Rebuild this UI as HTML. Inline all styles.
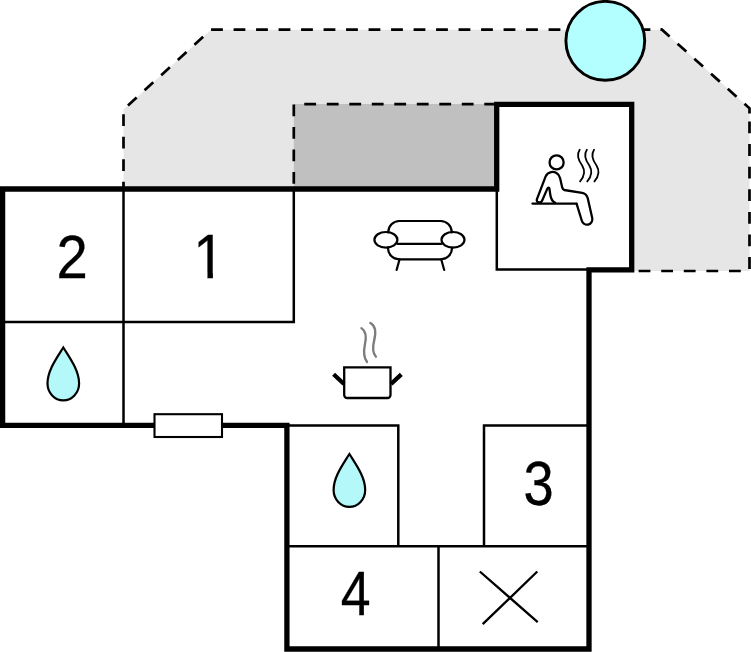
<!DOCTYPE html>
<html lang="en">
<head>
<meta charset="utf-8">
<title>Floor plan</title>
<style>
html,body{margin:0;padding:0;background:#fff;}
body{width:751px;height:652px;overflow:hidden;}
svg{display:block;}
.num{font-family:"Liberation Sans",sans-serif;font-size:60px;fill:#000;stroke:#000;stroke-width:0.3;text-anchor:start;}
.thick{fill:none;stroke:#000;stroke-width:5.3;stroke-linejoin:miter;stroke-linecap:butt;}
.thin{fill:none;stroke:#000;stroke-width:2.5;stroke-linecap:butt;stroke-linejoin:miter;}
.dash{fill:none;stroke:#000;stroke-width:2.7;stroke-dasharray:11.8 10.7;}
.ico{fill:none;stroke:#000;stroke-width:2.2;stroke-linecap:round;stroke-linejoin:round;}
</style>
</head>
<body>
<svg width="751" height="652" viewBox="0 0 751 652">
<rect x="0" y="0" width="751" height="652" fill="#fff"/>

<!-- terrace (light grey) -->
<polygon points="123.5,189 123.5,109.5 211,29.7 662,29.7 749.5,108.3 749.5,271 632,271 632,104 497,104 497,189" fill="#e6e6e6"/>
<!-- covered terrace (dark grey) -->
<rect x="293.8" y="104" width="203" height="85" fill="#c0c0c0"/>

<!-- dashed outlines -->
<path class="dash" stroke-dashoffset="4.5" d="M123.5,189 L123.5,109.5 L211,29.7 L662,29.7"/>
<path class="dash" d="M660.4,29.7 L662,29.7 L749.5,108.3 L749.5,114"/>
<path class="dash" style="stroke-dasharray:11.8 10.8" d="M749.5,121.5 L749.5,271 L632,271"/>
<path class="dash" stroke-dashoffset="17.2" d="M293.8,189 L293.8,104.2 L497,104.2"/>

<!-- sauna room white interior -->
<rect x="496.7" y="104.3" width="135" height="165.5" fill="#fff"/>

<!-- thin interior lines -->
<path class="thin" d="M123.5,189 V425.4 M2.6,322 H295 M293.8,189 V323.2 M496.8,189 V270.7 M495.6,269.5 H589 M287,425.4 H399.5 M398.3,425.4 V546.3 M484,546.3 V424.4 M482.8,425.6 H589 M287,546.3 H589 M438.5,546.3 V649"/>

<!-- thick outer walls -->
<path class="thick" d="M496.7,191.65 V189 H2.6 V425.4 H286.9 V649 H589 V269.8 H631.7 V104.3 H496.7 V189"/>

<!-- window -->
<rect x="154.5" y="414.2" width="67.5" height="22.8" fill="#fff" stroke="#000" stroke-width="2.1"/>

<!-- hot tub -->
<circle cx="605.3" cy="40.8" r="39.4" fill="#b3ffff" stroke="#000" stroke-width="2.9"/>

<!-- room numbers -->
<defs><clipPath id="one"><path d="M0,-50 H40 V-4.75 H20.6 V2 H14.9 V-4.75 H0 Z"/></clipPath></defs>
<text class="num" transform="translate(56.59,277.60) scale(0.9379,1.0287)" x="0" y="0">2</text>
<text class="num" transform="translate(193.33,277.60) scale(0.9495,1.0436)" x="0" y="0" clip-path="url(#one)">1</text>
<text class="num" transform="translate(523.62,505.18) scale(0.9048,1.0353)" x="0" y="0">3</text>
<text class="num" transform="translate(340.65,615.10) scale(0.8939,1.0388)" x="0" y="0">4</text>

<!-- water drops -->
<defs><path id="drop" d="M0,0 C6.5,10.5 15.8,23 15.8,36 C15.8,45.3 8.7,52.8 0,52.8 C-8.7,52.8 -15.8,45.3 -15.8,36 C-15.8,23 -6.5,10.5 0,0 Z"/></defs>
<use href="#drop" x="63.3" y="347.5" fill="#b4f8fa" stroke="#000" stroke-width="2.2" stroke-linejoin="miter"/>
<use href="#drop" x="349.4" y="454.0" fill="#b4f8fa" stroke="#000" stroke-width="2.2" stroke-linejoin="miter"/>

<!-- X (storage) -->
<path d="M479.8,571.5 L537.7,622.1 M537.3,571.5 L482.7,624.2" fill="none" stroke="#000" stroke-width="2.3"/>

<!-- sofa -->
<g class="ico">
<path d="M388.3,232.5 V232 A11,11 0 0 1 399.3,221 H440.7 A11,11 0 0 1 451.7,232 V232.5"/>
<ellipse cx="385.9" cy="239.8" rx="11.5" ry="7.8"/>
<ellipse cx="453" cy="239.8" rx="11.5" ry="7.8"/>
<path d="M397.4,243.8 H441.5"/>
<path d="M388,247.6 V248.3 A11,11 0 0 0 399,259.3 H441 A11,11 0 0 0 452,248.3 V247.6"/>
<path d="M399.6,259.3 L396.6,270 M441.2,259.3 L444.2,270"/>
</g>

<!-- pot -->
<g>
<path d="M344.2,367.4 H390.5 V395 A3,3 0 0 1 387.5,398 H347.2 A3,3 0 0 1 344.2,395 Z" fill="#fff" stroke="#000" stroke-width="2.3" stroke-linejoin="miter"/>
<path d="M333.6,374.2 L344,384 M401.3,374.4 L391,384" fill="none" stroke="#000" stroke-width="4.3" stroke-linecap="butt"/>
<g transform="translate(320,315) scale(0.13812)" fill="none" stroke="#7c7c7c" stroke-width="17" stroke-linecap="round">
<path d="M300,95 C340,120 335,170 325,215 C315,260 320,310 340,340"/>
<path d="M365,58 C405,80 405,130 393,180 C380,230 385,280 405,302"/>
</g>
</g>

<!-- sauna icon -->
<g transform="translate(520,140) scale(0.13812)" fill="none" stroke="#000" stroke-width="16.5" stroke-linecap="round" stroke-linejoin="round">
<circle cx="265" cy="162" r="51"/>
<path d="M90,460 H410"/>
<path d="M410,462 L447,583 A39,39 0 0 0 523,565 L490,420 C483,395 470,385 450,382 L320,362 C312,360 308,352 306,345 L290,275 C282,240 250,228 225,232 C205,236 192,248 185,265 L122,430 C115,452 150,462 160,440 L198,352 C202,343 212,343 213,352 L220,400 C224,425 235,445 255,455"/>
<path stroke-width="13" d="M432,70 C405,110 425,150 450,185 C475,225 465,265 435,300"/>
<path stroke-width="13" d="M484,70 C457,110 477,150 502,185 C527,225 517,265 487,300"/>
<path stroke-width="13" d="M536,70 C509,110 529,150 554,185 C579,225 569,265 539,300"/>
</g>
</svg>
</body>
</html>
